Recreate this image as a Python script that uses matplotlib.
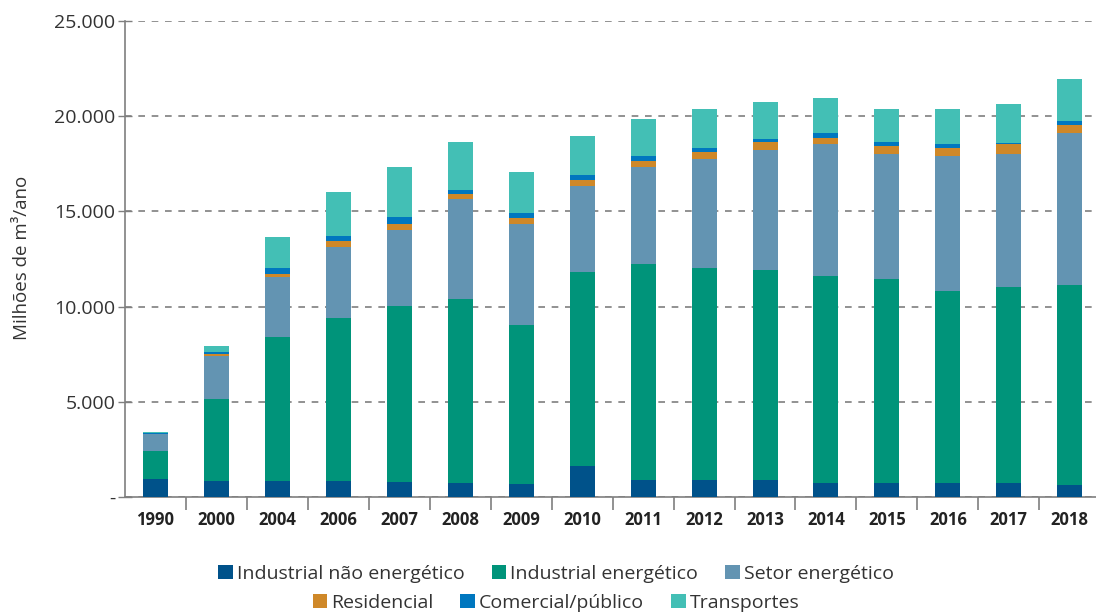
import numpy as np
import matplotlib.pyplot as plt
from matplotlib.ticker import FuncFormatter, FixedLocator

plt.rcParams['font.family'] = ['Open Sans', 'DejaVu Sans']

anos = ["1990", "2000", "2004", "2006", "2007", "2008", "2009", "2010",
        "2011", "2012", "2013", "2014", "2015", "2016", "2017", "2018"]

ind_nao_energ = [950, 840, 840, 840, 790, 740, 680, 1630,
                 890, 890, 890, 740, 740, 740, 740, 630]
ind_energ = [1470, 4310, 7560, 8560, 9240, 9660, 8350, 10190,
             11350, 11140, 11030, 10870, 10710, 10080, 10290, 10500]
setor_energ = [890, 2270, 3140, 3710, 3990, 5250, 5310, 4510,
               5090, 5720, 6300, 6930, 6560, 7090, 6980, 7990]
residencial = [20, 90, 170, 340, 320, 260, 310, 320,
               320, 370, 430, 320, 430, 420, 530, 420]
comercial = [10, 110, 320, 260, 370, 210, 270, 260,
             260, 210, 150, 260, 210, 210, 50, 210]
transportes = [90, 310, 1630, 2310, 2620, 2530, 2150, 2050,
               1940, 2050, 1950, 1840, 1730, 1840, 2050, 2200]

series = [
    ("Industrial não energético", ind_nao_energ, "#00528A"),
    ("Industrial energético", ind_energ, "#00947A"),
    ("Setor energético", setor_energ, "#6394B2"),
    ("Residencial", residencial, "#CF8828"),
    ("Comercial/público", comercial, "#0077BF"),
    ("Transportes", transportes, "#43BFB5"),
]

fig = plt.figure(figsize=(10.96, 6.15), dpi=100)
ax = fig.add_axes([125 / 1096, 1 - 497 / 615, (1096 - 125) / 1096, 476 / 615])

x = np.arange(len(anos))
bottom = np.zeros(len(anos))
handles = []
for nome, vals, cor in series:
    b = ax.bar(x, vals, bottom=bottom, width=0.41, color=cor, label=nome, zorder=3)
    handles.append(b)
    bottom += np.array(vals)

ax.set_xlim(-0.5, 15.43)
ax.set_ylim(0, 25000)
ax.set_yticks(np.arange(0, 25001, 5000))


def fmt(v, pos):
    if v == 0:
        return "-"
    return f"{int(v):,}".replace(",", ".")


ax.yaxis.set_major_formatter(FuncFormatter(fmt))
ax.yaxis.grid(True, linestyle=(0, (4, 4)), color="#7f7f7f", linewidth=1.2, zorder=0)
ax.tick_params(axis="y", direction="inout", length=10, width=1, color="#7f7f7f",
               labelsize=14, labelcolor="#333333", pad=2)

ax.set_xticks(x)
ax.set_xticklabels(anos, fontweight="bold", fontsize=12, color="#222222")
ax.tick_params(axis="x", which="major", length=0, pad=10)
ax.xaxis.set_minor_locator(FixedLocator(x[:-1] + 0.5))
ax.tick_params(axis="x", which="minor", length=9, width=1.2, color="#7f7f7f", direction="out")

for s in ["top", "right"]:
    ax.spines[s].set_visible(False)
ax.spines["left"].set_color("#7f7f7f")
ax.spines["bottom"].set_color("#7f7f7f")
ax.spines["left"].set_linewidth(1.2)
ax.spines["bottom"].set_linewidth(1.2)

fig.text(22 / 1096, 1 - 258 / 615, "Milhões de m³/ano", rotation=90,
         ha="center", va="center", fontsize=13.5, color="#333333")

leg_kw = dict(frameon=False, fontsize=14, handlelength=0.75, handleheight=0.75,
              handletextpad=0.2, columnspacing=1.4, borderaxespad=0, labelcolor="#333333")
leg1 = fig.legend(handles[:3], [s[0] for s in series[:3]], ncol=3,
                  loc="center", bbox_to_anchor=(556 / 1096, 1 - 574 / 615), **leg_kw)
fig.legend(handles[3:], [s[0] for s in series[3:]], ncol=3,
           loc="center", bbox_to_anchor=(556 / 1096, 1 - 603 / 615), **leg_kw)

fig.savefig("out.png", dpi=100)
